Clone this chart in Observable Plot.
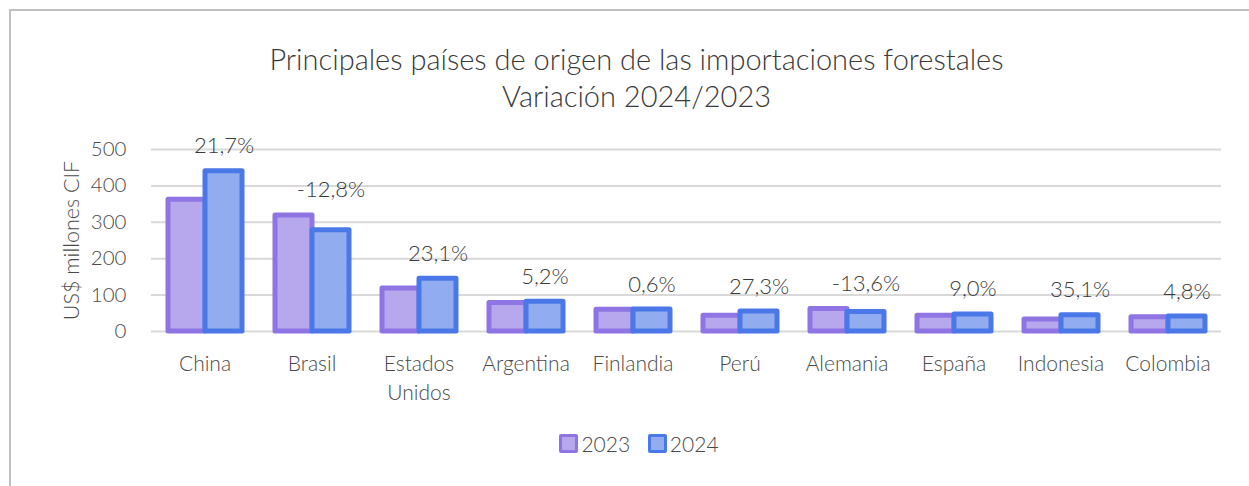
<!DOCTYPE html>
<html>
<head>
<meta charset="utf-8">
<script src="https://cdn.jsdelivr.net/npm/d3@7"></script>
<script src="https://cdn.jsdelivr.net/npm/@observablehq/plot@0.6"></script>
<style>
  html, body { margin: 0; padding: 0; background: #fff; }
  body { width: 1249px; height: 486px; position: relative; overflow: hidden; font-family: Lato, "Open Sans", sans-serif; }
  #frame { position: absolute; left: 9px; top: 9px; width: 1260px; height: 500px; border-top: 2px solid #bfbfbf; border-left: 2px solid #bfbfbf; box-sizing: border-box; }
  #title { position: absolute; left: 12px; width: 1249px; top: 40px; text-align: center; font-size: 29px; line-height: 37px; color: #3a3a3a; font-weight: 300; }
  #chart { position: absolute; left: 0; top: 120px; }
  #legend { position: absolute; left: 0; width: 1278px; top: 431px; text-align: center; font-size: 21px; color: #4a4a4a; font-weight: 300; }
  .sw { display: inline-block; width: 13px; height: 13px; border-radius: 2px; vertical-align: -1px; margin-right: 3px; }
  .item { margin: 0 6px; }
</style>
</head>
<body>
<div id="frame"></div>
<div id="title">Principales países de origen de las importaciones forestales<br>Variación 2024/2023</div>
<div id="chart"></div>
<div id="legend">
  <span class="item"><span class="sw" style="background:#b7a8ee;border:3px solid #8e75e3"></span>2023</span>
  <span class="item"><span class="sw" style="background:#92acf0;border:3px solid #4a78e8"></span>2024</span>
</div>
<script>
const countries = ["China", "Brasil", "Estados Unidos", "Argentina", "Finlandia", "Perú", "Alemania", "España", "Indonesia", "Colombia"];
const years = ["2023", "2024"];
const values2023 = [362, 319, 118, 78, 60, 43, 62, 43, 33, 39];
const values2024 = [440, 278, 145, 82, 60.4, 55, 53.5, 47, 44.6, 41];
const variation = ["21,7%", "-12,8%", "23,1%", "5,2%", "0,6%", "27,3%", "-13,6%", "9,0%", "35,1%", "4,8%"];
const yTicks = [0, 100, 200, 300, 400, 500];

const fills = {"2023": "#b7a8ee", "2024": "#92acf0"};
const strokes = {"2023": "#8e75e3", "2024": "#4a78e8"};

const rows = [];
countries.forEach((c, i) => {
  rows.push({country: c, year: "2023", value: values2023[i]});
  rows.push({country: c, year: "2024", value: values2024[i]});
});
const labels = countries.map((c, i) => ({country: c, year: "2024", top: Math.max(values2023[i], values2024[i]), text: variation[i]}));

const chart = Plot.plot({
  width: 1249,
  height: 290,
  marginLeft: 148,
  marginRight: 26,
  marginTop: 29,
  marginBottom: 79,
  style: {fontFamily: "Lato, 'Open Sans', sans-serif", background: "transparent", fontWeight: 300},
  fx: {domain: countries, padding: 0},
  x: {domain: years, paddingInner: 0, paddingOuter: 0.42, axis: null},
  y: {domain: [0, 500], ticks: yTicks},
  marks: [
    Plot.gridY(yTicks, {stroke: "#d9d9d9", strokeOpacity: 1, strokeWidth: 2}),
    Plot.axisY({ticks: yTicks, tickSize: 0, tickPadding: 25, fontSize: 20.5, color: "#4a4a4a", label: null}),
    Plot.axisY({ticks: [], tickSize: 0, fontSize: 21.5, color: "#4a4a4a",
      label: "US$ millones CIF", labelAnchor: "center", labelArrow: "none", labelOffset: 88}),
    Plot.axisFx({anchor: "bottom", tickSize: 0, tickPadding: 19, fontSize: 21, color: "#4a4a4a", label: null, lineHeight: 1.38,
      tickFormat: d => d === "Estados Unidos" ? "Estados\nUnidos" : d}),
    Plot.barY(rows, {fx: "country", x: "year", y: "value",
      fill: d => fills[d.year], stroke: d => strokes[d.year], strokeWidth: 5, strokeLinejoin: "round"}),
    Plot.text(labels, {fx: "country", x: "year", y: "top", text: "text", dy: -25,
      fontSize: 22, fill: "#3a3a3a", lineAnchor: "middle"})
  ]
});
document.getElementById("chart").appendChild(chart);
</script>
</body>
</html>
